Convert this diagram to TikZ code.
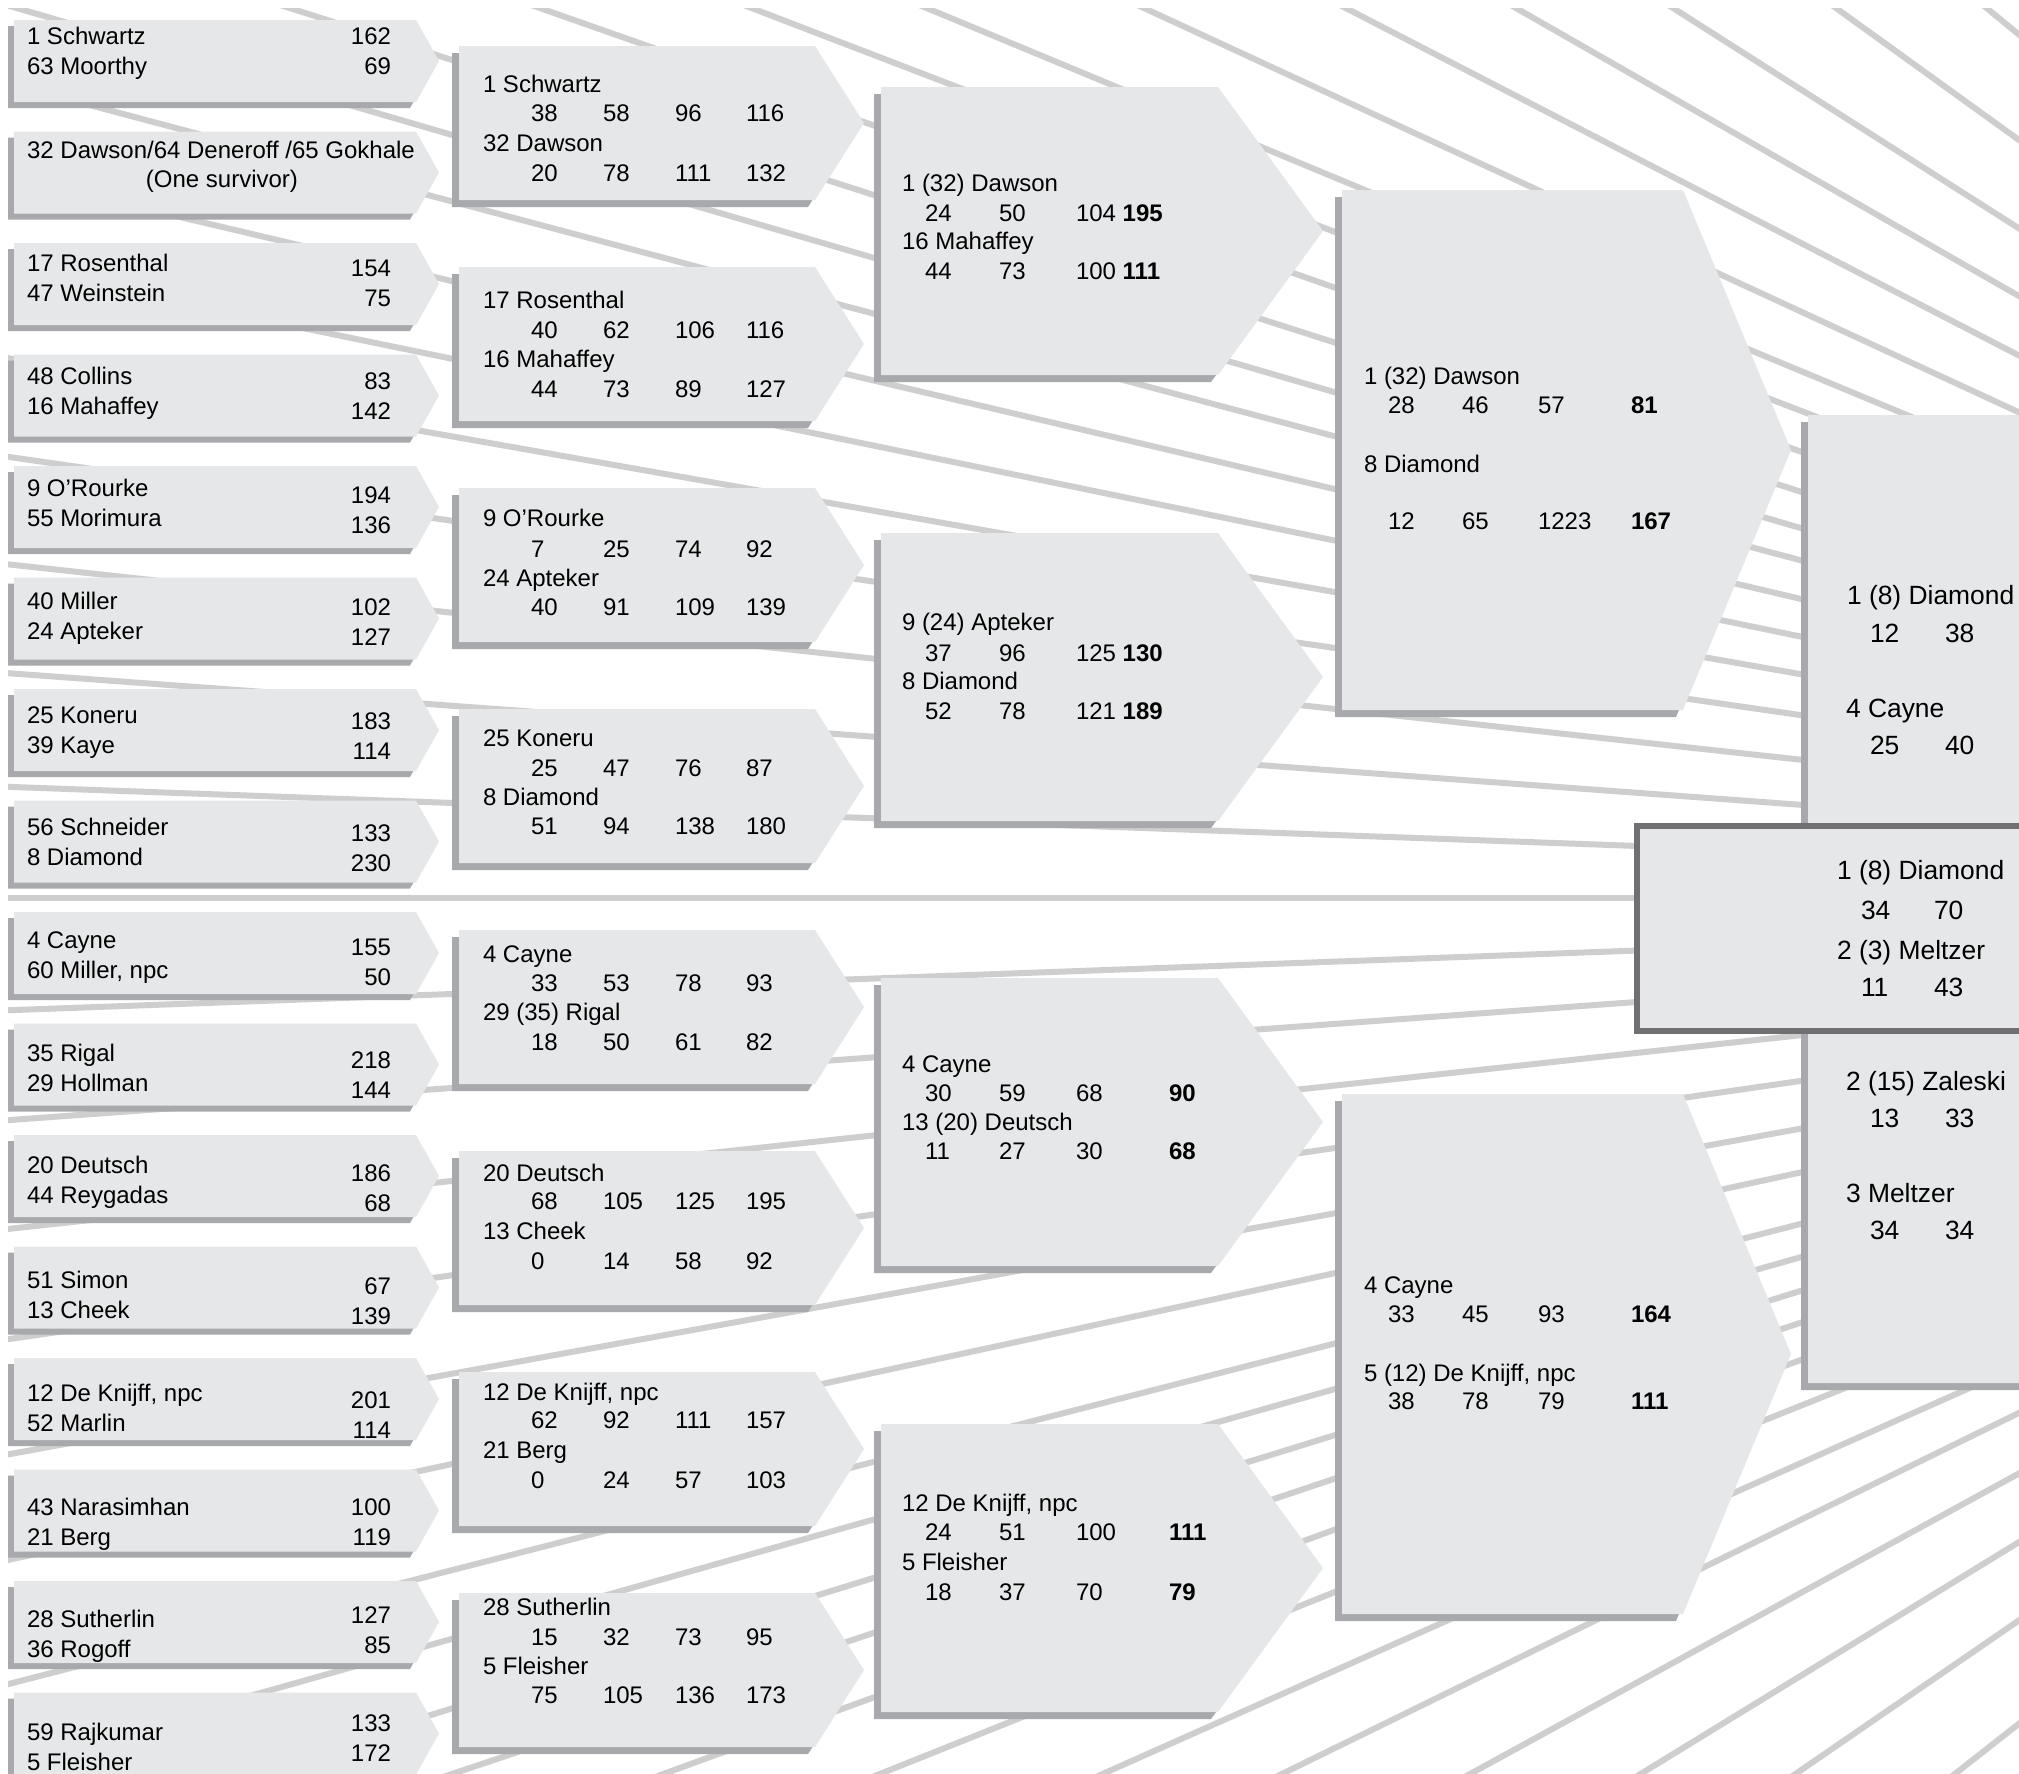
\documentclass[tikz,border=0pt]{standalone}
\usepackage{fontspec}
\setmainfont{Liberation Sans}
\definecolor{boxc}{HTML}{E6E7E8}
\definecolor{shadc}{HTML}{A7A9AC}
\definecolor{linec}{HTML}{CECECE}
\definecolor{finc}{HTML}{707073}
% pentagon box: left, top, rect right, tip, bottom, shadow offset
\newcommand{\pbox}[6]{%
  \fill[shadc, shift={(-#6,#6)}] (#1,#2) -- (#3,#2) -- (#4,{0.5*(#2+#5)}) -- (#3,#5) -- (#1,#5) -- cycle;
  \fill[boxc] (#1,#2) -- (#3,#2) -- (#4,{0.5*(#2+#5)}) -- (#3,#5) -- (#1,#5) -- cycle;}
% first round: id top name1 name2 score1 score2 yname yscore
\newcommand{\cone}[8]{%
  \pbox{14}{#2}{416}{439}{#2+82}{6}
  \node[t] (#1n1) at (27,#7+8.6) {#3};
  \node[t] (#1n2) at (27,#7+38.6) {#4};
  \node[tr] (#1s1) at (391,#8+8.6) {#5};
  \node[tr] (#1s2) at (391,#8+38.6) {#6};}
% second round: id top yname1 yname2 name1 name2
\newcommand{\ctwo}[6]{%
  \pbox{459}{#2}{815}{864}{#2+154}{7}
  \node[t] (#1n1) at (483,#3+8.6) {#5};
  \node[t] (#1n2) at (483,#4+8.6) {#6};}
\newcommand{\rowtwo}[6]{%
  \node[t] (#1a) at (531,#2+8.6) {#3};
  \node[t] (#1b) at (603,#2+8.6) {#4};
  \node[t] (#1c) at (675,#2+8.6) {#5};
  \node[t] (#1d) at (746,#2+8.6) {#6};}
% third round
\newcommand{\cthree}[6]{%
  \pbox{881}{#2}{1218}{1323}{#2+288}{7}
  \node[t] (#1n1) at (902,#3+8.6) {#5};
  \node[t] (#1n2) at (902,#4+8.6) {#6};}
\newcommand{\rowthree}[6]{%
  \node[t] (#1a) at (925,#2+8.6) {#3};
  \node[t] (#1b) at (999,#2+8.6) {#4};
  \node[t] (#1c) at (1076,#2+8.6) {#5};
  \node[t] (#1d) at (1169,#2+8.6) {\bfseries #6};}
\newcommand{\rowthreeb}[5]{%
  \node[t] (#1a) at (925,#2+8.6) {#3};
  \node[t] (#1b) at (999,#2+8.6) {#4};
  \node[t] (#1c) at (1076,#2+8.6) {#5};}
% fourth round
\newcommand{\cfour}[6]{%
  \pbox{1342}{#2}{1683}{1791}{#2+520}{7}
  \node[t] (#1n1) at (1364,#3+8.6) {#5};
  \node[t] (#1n2) at (1364,#4+8.6) {#6};}
\newcommand{\rowfour}[6]{%
  \node[t] (#1a) at (1388,#2+8.6) {#3};
  \node[t] (#1b) at (1462,#2+8.6) {#4};
  \node[t] (#1c) at (1538,#2+8.6) {#5};
  \node[t] (#1d) at (1631,#2+8.6) {\bfseries #6};}
\begin{document}
\begin{tikzpicture}[x=0.5pt,y=-0.5pt,
  ray/.style={draw=linec,line width=3pt},
  t/.style={inner sep=0pt,outer sep=0pt,anchor=base west,font=\fontsize{12}{14}\selectfont},
  tr/.style={t,anchor=base east},
  tc/.style={t,anchor=base},
  tL/.style={t,font=\fontsize{13.2}{15}\selectfont}]
\clip (0,0) rectangle (2019,1773);
\fill[white] (0,0) rectangle (2019,1773);
\coordinate (C) at (3070,898);
\begin{scope}
\clip (8,8) rectangle (2019,1773);
\foreach \a in {0,2.08,4.2,6.22,8.2,10.0,11.64,13.26,14.9,16.25,17.75,19.38,21.0,22.55,24.8,27.3,29.8,32.5,35.8,39.4}
  \draw[ray] (C) -- ++({-3700*cos(\a)},{-3700*sin(\a)});
\foreach \a in {2.1,4.15,6.17,8.2,10.3,12.2,14.4,15.8,17.2,18.5,20.0,21.8,24.0,26.1,28.7,31.5,34.5,38.15}
  \draw[ray] (C) -- ++({-3700*cos(\a)},{3700*sin(\a)});
\end{scope}
% ---- round 1
\cone{a1}{20}{1 Schwartz}{63 Moorthy}{162}{69}{36}{36}
\pbox{14}{131.5}{416}{439}{213.5}{6}
\node[tc] (a2n1) at (221,149.4+8.6) {32 Dawson/64 Deneroff /65 Gokhale};
\node[tc] (a2n2) at (222,179+8.6) {(One survivor)};
\cone{a3}{243}{17 Rosenthal}{47 Weinstein}{154}{75}{262.7}{267.8}
\cone{a4}{354.5}{48 Collins}{16 Mahaffey}{83}{142}{376}{381}
\cone{a5}{466}{9 O’Rourke}{55 Morimura}{194}{136}{488}{494.4}
\cone{a6}{577.5}{40 Miller}{24 Apteker}{102}{127}{601.3}{606.5}
\cone{a7}{689}{25 Koneru}{39 Kaye}{183}{114}{714.6}{721}
\cone{a8}{800.5}{56 Schneider}{8 Diamond}{133}{230}{826.6}{833}
\cone{a9}{912}{4 Cayne}{60 Miller, npc}{155}{50}{940}{946.4}
\cone{a10}{1023.5}{35 Rigal}{29 Hollman}{218}{144}{1053.3}{1059.7}
\cone{a11}{1135}{20 Deutsch}{44 Reygadas}{186}{68}{1165.3}{1173}
\cone{a12}{1246.5}{51 Simon}{13 Cheek}{67}{139}{1279.9}{1286.3}
\cone{a13}{1358}{12 De Knijff, npc}{52 Marlin}{201}{114}{1393.2}{1399.6}
\cone{a14}{1469.5}{43 Narasimhan}{21 Berg}{100}{119}{1506.5}{1506.5}
\cone{a15}{1581}{28 Sutherlin}{36 Rogoff}{127}{85}{1618.5}{1614.7}
\cone{a16}{1692.5}{59 Rajkumar}{5 Fleisher}{133}{172}{1731.8}{1722.8}
% ---- round 2
\ctwo{b1}{46}{83.7}{142.9}{1 Schwartz}{32 Dawson}
\rowtwo{b1x}{113.3}{38}{58}{96}{116}
\rowtwo{b1y}{172.5}{20}{78}{111}{132}
\ctwo{b2}{267}{300}{359.2}{17 Rosenthal}{16 Mahaffey}
\rowtwo{b2x}{329.6}{40}{62}{106}{116}
\rowtwo{b2y}{388.9}{44}{73}{89}{127}
\ctwo{b3}{488}{517.6}{578.1}{9 O’Rourke}{24 Apteker}
\rowtwo{b3x}{548.5}{7}{25}{74}{92}
\rowtwo{b3y}{606.5}{40}{91}{109}{139}
\ctwo{b4}{709}{737.8}{797}{25 Koneru}{8 Diamond}
\rowtwo{b4x}{767.4}{25}{47}{76}{87}
\rowtwo{b4y}{825.4}{51}{94}{138}{180}
\ctwo{b5}{930}{954.1}{1012}{4 Cayne}{29 (35) Rigal}
\rowtwo{b5x}{982.4}{33}{53}{78}{93}
\rowtwo{b5y}{1041.7}{18}{50}{61}{82}
\ctwo{b6}{1151}{1173}{1231}{20 Deutsch}{13 Cheek}
\rowtwo{b6x}{1201.3}{68}{105}{125}{195}
\rowtwo{b6y}{1260.6}{0}{14}{58}{92}
\ctwo{b7}{1372}{1391.9}{1449.8}{12 De Knijff, npc}{21 Berg}
\rowtwo{b7x}{1420.2}{62}{92}{111}{157}
\rowtwo{b7y}{1479.5}{0}{24}{57}{103}
\ctwo{b8}{1593}{1607}{1666.2}{28 Sutherlin}{5 Fleisher}
\rowtwo{b8x}{1636.5}{15}{32}{73}{95}
\rowtwo{b8y}{1694.5}{75}{105}{136}{173}
% ---- round 3
\cthree{c1}{87}{182.8}{240.8}{1 (32) Dawson}{16 Mahaffey}
\rowthreeb{c1x}{212.5}{24}{50}{104 \textbf{195}}
\rowthreeb{c1y}{270.4}{44}{73}{100 \textbf{111}}
\cthree{c2}{533}{621.9}{681.1}{9 (24) Apteker}{8 Diamond}
\rowthreeb{c2x}{652.8}{37}{96}{125 \textbf{130}}
\rowthreeb{c2y}{710.8}{52}{78}{121 \textbf{189}}
\cthree{c3}{978}{1063.6}{1121.5}{4 Cayne}{13 (20) Deutsch}
\rowthree{c3x}{1093.2}{30}{59}{68}{90}
\rowthree{c3y}{1151.1}{11}{27}{30}{68}
\cthree{c4}{1424}{1502.6}{1561.9}{12 De Knijff, npc}{5 Fleisher}
\rowthree{c4x}{1532.2}{24}{51}{100}{111}
\rowthree{c4y}{1591.5}{18}{37}{70}{79}
% ---- round 4
\cfour{d1}{190}{376}{463.5}{1 (32) Dawson}{8 Diamond}
\rowfour{d1x}{404.5}{28}{46}{57}{81}
\rowfour{d1y}{521}{12}{65}{1223}{167}
\cfour{d2}{1094}{1285}{1373}{4 Cayne}{5 (12) De Knijff, npc}
\rowfour{d2x}{1314}{33}{45}{93}{164}
\rowfour{d2y}{1401}{38}{78}{79}{111}
% ---- semifinals
\pbox{1808}{415}{2150}{2200}{1383}{7}
\node[tL] (e1n1) at (1847,595+9.4) {1 (8) Diamond};
\node[tL] (e1a) at (1870,633+9.4) {12};
\node[tL] (e1b) at (1945,633+9.4) {38};
\node[tL] (e1n2) at (1846,708+9.4) {4 Cayne};
\node[tL] (e1c) at (1870,745+9.4) {25};
\node[tL] (e1d) at (1945,745+9.4) {40};
\node[tL] (e2n1) at (1846,1081+9.4) {2 (15) Zaleski};
\node[tL] (e2a) at (1870,1118+9.4) {13};
\node[tL] (e2b) at (1945,1118+9.4) {33};
\node[tL] (e2n2) at (1846,1193+9.4) {3 Meltzer};
\node[tL] (e2c) at (1870,1230+9.4) {34};
\node[tL] (e2d) at (1945,1230+9.4) {34};
% ---- final
\draw[draw=finc, line width=3pt, fill=boxc] (1637,826) rectangle (2200,1031);
\node[tL] (fn1) at (1837,870+9.4) {1 (8) Diamond};
\node[tL] (fa) at (1861,910+9.4) {34};
\node[tL] (fb) at (1934,910+9.4) {70};
\node[tL] (fn2) at (1837,950+9.4) {2 (3) Meltzer};
\node[tL] (fc) at (1861,987+9.4) {11};
\node[tL] (fd) at (1934,987+9.4) {43};
\end{tikzpicture}
\end{document}
